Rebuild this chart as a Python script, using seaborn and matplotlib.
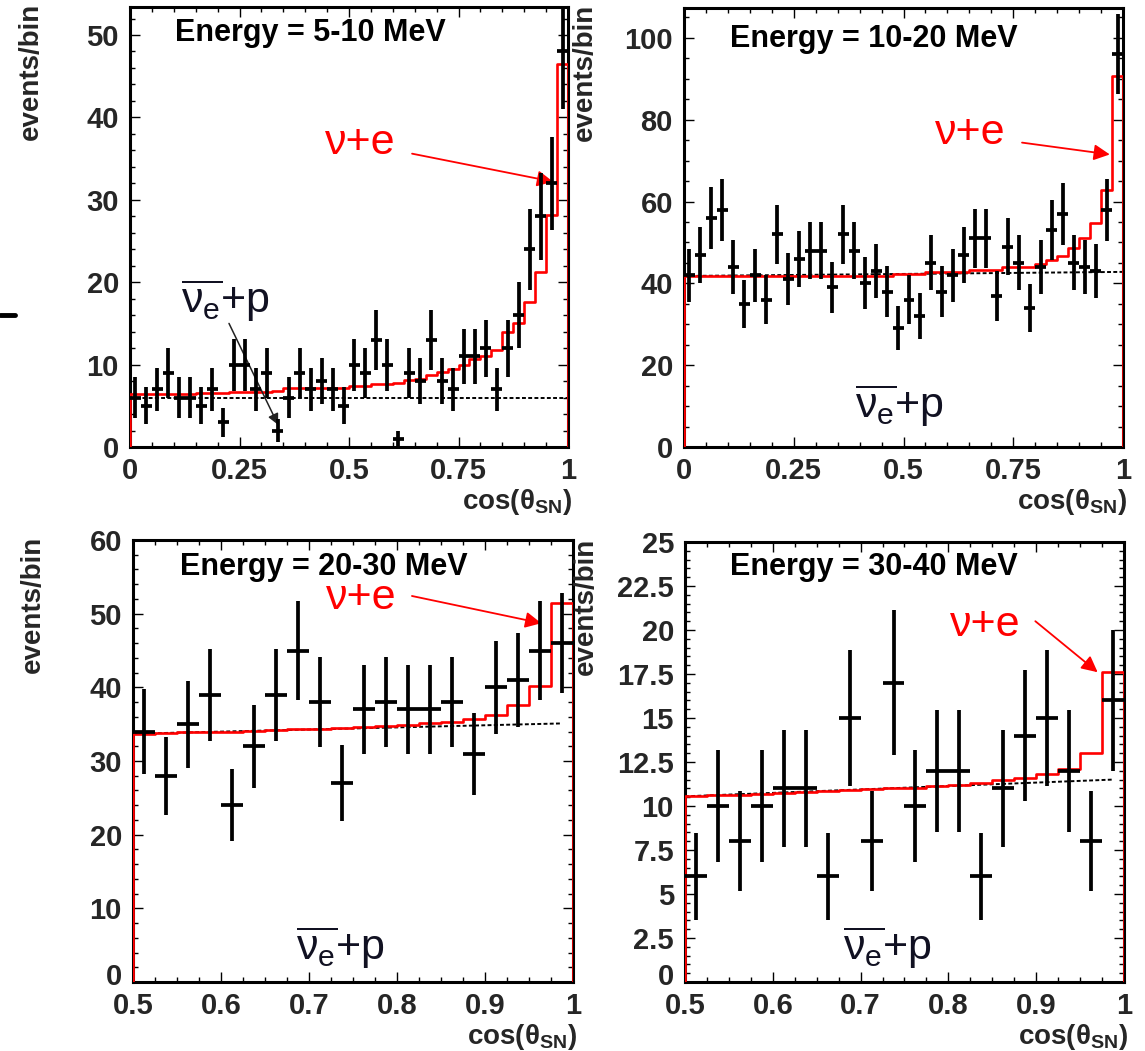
import numpy as np
import pandas as pd
import seaborn as sns
import matplotlib.pyplot as plt
import matplotlib.transforms as mtransforms
from matplotlib.ticker import MultipleLocator, FuncFormatter
from matplotlib.lines import Line2D

# bin edges of the cos(theta_SN) histograms
edges_full = np.linspace(0.0, 1.0, 41)
edges_half = np.linspace(0.5, 1.0, 21)

# observed events per bin
counts_5_10 = [6, 5, 7, 9, 6, 6, 5, 7, 3, 10, 10, 7, 9, 2, 6, 9, 7, 8, 7, 5,
               10, 9, 13, 10, 1, 9, 8, 13, 8, 7, 11, 11, 12, 7, 12, 16, 24, 28, 32, 48]
counts_10_20 = [42, 47, 56, 58, 44, 35, 42, 36, 52, 41, 46, 48, 48, 39, 52, 48, 40, 43, 38, 29,
                36, 32, 45, 38, 42, 47, 51, 51, 37, 49, 45, 34, 44, 53, 57, 45, 44, 43, 58, 96]
counts_20_30 = [34, 28, 35, 39, 24, 32, 39, 45, 38, 27, 37, 38, 37, 37, 38, 31, 40, 41, 45, 46]
counts_30_40 = [6, 10, 8, 10, 11, 11, 6, 15, 8, 17, 10, 12, 12, 6, 11, 14, 15, 12, 8, 16]

# expected (nu+e plus nubar_e+p) per bin, red histogram
model_5_10 = [6.4, 6.4, 6.4, 6.4, 6.4, 6.4, 6.5, 6.5, 6.6, 6.7, 6.7, 6.7, 6.7, 6.8, 7.1, 7.1,
              7.1, 7.2, 7.2, 7.2, 7.4, 7.4, 7.7, 7.7, 7.8, 8.1, 8.2, 8.7, 9.1, 9.5, 9.9, 10.7,
              11.1, 11.8, 13.9, 15.0, 17.6, 21.2, 28.1, 46.5]
model_10_20 = [41.8] * 19 + [42.3, 42.3, 42.3, 42.7, 42.7, 42.7, 42.7, 43.2, 43.2, 43.2,
                             43.9, 43.9, 43.9, 44.8, 45.6, 46.6, 48.6, 51.2, 54.8, 62.8, 90.6]
model_20_30 = [33.7, 33.8, 33.9, 34.0, 34.0, 34.1, 34.2, 34.3, 34.4, 34.5, 34.6, 34.8, 34.9,
               35.1, 35.3, 35.7, 36.2, 37.6, 40.2, 51.5]
model_30_40 = [10.55, 10.6, 10.65, 10.7, 10.75, 10.8, 10.85, 10.9, 10.95, 11.0, 11.05, 11.15,
               11.2, 11.3, 11.45, 11.6, 11.8, 12.1, 13.0, 17.6]

# nubar_e + p background (dashed)
bkg_x_full = [0.0, 1.0]
bkg_x_half = [0.5, 0.987]
bkg_5_10 = [6.0, 6.0]
bkg_10_20 = [41.8, 42.8]
bkg_20_30 = [33.7, 35.1]
bkg_30_40 = [10.55, 11.5]

titles = ['Energy = 5-10 MeV', 'Energy = 10-20 MeV', 'Energy = 20-30 MeV', 'Energy = 30-40 MeV']

sns.set_theme(style='ticks')
plt.rcParams['font.family'] = ['Liberation Sans', 'DejaVu Sans']
plt.rcParams['mathtext.fontset'] = 'custom'
plt.rcParams['mathtext.rm'] = 'Liberation Sans'
plt.rcParams['mathtext.it'] = 'Liberation Sans:italic'
plt.rcParams['mathtext.bf'] = 'Liberation Sans:bold'

W, H = 1145, 1051
fig = plt.figure(figsize=(W / 100, H / 100), dpi=100)
fig.patch.set_facecolor('white')

# pixel boxes (left, right, top, bottom)
boxes = [(130, 568, 7, 447), (684, 1123, 8, 447), (133, 573, 540, 982), (685, 1124, 542, 982)]

panels = [
    dict(edges=edges_full, counts=counts_5_10, model=model_5_10, bx=bkg_x_full, by=bkg_5_10,
         xlim=(0, 1), ylim=(0, 53.4), xmaj=0.25, xmin=0.05, ymaj=10, ymin=2,
         title_xy=(0.103, 0.941), nue=(0.525, 36.9), nue_tail=(0.644, 35.6), nue_head=(0.966, 32.2),
         nub=(0.217, 17.7), nub_arrow=((0.226, 15.0), (0.338, 2.7))),
    dict(edges=edges_full, counts=counts_10_20, model=model_10_20, bx=bkg_x_full, by=bkg_10_20,
         xlim=(0, 1), ylim=(0, 107.3), xmaj=0.25, xmin=0.05, ymaj=20, ymin=5,
         title_xy=(0.105, 0.929), nue=(0.651, 76.8), nue_tail=(0.770, 74.4), nue_head=(0.970, 71.5),
         nub=(0.492, 10.2), nub_arrow=None),
    dict(edges=edges_half, counts=counts_20_30, model=model_20_30, bx=bkg_x_half, by=bkg_20_30,
         xlim=(0.5, 1), ylim=(0, 60), xmaj=0.1, xmin=0.025, ymaj=10, ymin=2,
         title_xy=(0.107, 0.939), nue=(0.759, 52.1), nue_tail=(0.817, 52.4), nue_head=(0.964, 48.7),
         nub=(0.736, 4.6), nub_arrow=None),
    dict(edges=edges_half, counts=counts_30_40, model=model_30_40, bx=bkg_x_half, by=bkg_30_40,
         xlim=(0.5, 1), ylim=(0, 25), xmaj=0.1, xmin=0.025, ymaj=2.5, ymin=0.5,
         title_xy=(0.103, 0.943), nue=(0.842, 20.3), nue_tail=(0.899, 20.5), nue_head=(0.970, 17.6),
         nub=(0.731, 1.93), nub_arrow=None),
]

fmt = FuncFormatter(lambda v, p: '%g' % round(v, 4))

for box, p, title in zip(boxes, panels, titles):
    l, r, t, b = box
    ax = fig.add_axes([l / W, 1 - b / H, (r - l) / W, (b - t) / H])
    edges = np.asarray(p['edges'])
    centers = 0.5 * (edges[1:] + edges[:-1])
    half = 0.5 * (edges[1] - edges[0])
    counts = np.asarray(p['counts'], dtype=float)
    model = np.asarray(p['model'])
    hist_df = pd.DataFrame({'cos': centers, 'expected': model})

    # background line
    sns.lineplot(x=p['bx'], y=p['by'], ax=ax, color='black', lw=1.4,
                 linestyle=(0, (2.0, 1.2)), zorder=2)
    # expected histogram
    sns.histplot(data=hist_df, x='cos', weights='expected', bins=list(edges), element='step',
                 fill=False, color='red', lw=1.9, ax=ax, zorder=3)
    ax.vlines([edges[0], edges[-1]], 0, [model[0], model[-1]], color='red', lw=1.9, zorder=3)
    # data
    ax.errorbar(centers, counts, xerr=half, yerr=np.sqrt(counts), fmt='none',
                ecolor='black', elinewidth=2.7, capsize=0, zorder=4)

    ax.set_xlim(*p['xlim'])
    ax.set_ylim(*p['ylim'])
    ax.xaxis.set_major_locator(MultipleLocator(p['xmaj']))
    ax.xaxis.set_minor_locator(MultipleLocator(p['xmin']))
    ax.yaxis.set_major_locator(MultipleLocator(p['ymaj']))
    ax.yaxis.set_minor_locator(MultipleLocator(p['ymin']))
    ax.xaxis.set_major_formatter(fmt)
    ax.yaxis.set_major_formatter(fmt)
    ax.tick_params(which='both', direction='in', top=True, right=True, color='black', width=1.0)
    ax.tick_params(which='major', length=7)
    ax.tick_params(which='minor', length=3.5)
    ax.tick_params(axis='y', which='major', pad=8, labelsize=21)
    ax.tick_params(axis='x', which='major', pad=7, labelsize=21)
    for lab in ax.get_xticklabels() + ax.get_yticklabels():
        lab.set_fontweight('bold')
    # in the lower panels the y "0" sits just above the first x label
    if p['xlim'][0] > 0:
        fig.canvas.draw()
        lab0 = ax.get_yticklabels()[0]
        for tk in ax.yaxis.get_major_ticks():
            if tk.label1.get_text() == '0':
                tk.label1.set_transform(tk.label1.get_transform() +
                                        mtransforms.ScaledTranslation(0, 6 / 72, fig.dpi_scale_trans))
    for s in ax.spines.values():
        s.set_linewidth(2.2)
        s.set_color('black')
    ax.set_facecolor('white')

    ax.set_ylabel('events/bin', fontsize=20, fontweight='bold', loc='top')
    ax.yaxis.set_label_coords(-0.197, 1.01)
    ax.set_xlabel(r'cos($\mathbf{\theta}_{\mathbf{SN}}$)', fontsize=20, fontweight='bold', loc='right')
    ax.xaxis.set_label_coords(1.008, -0.09)

    ax.text(*p['title_xy'], title, transform=ax.transAxes, ha='left', va='center',
            fontsize=22, fontweight='bold', color='black')
    ax.text(*p['nue'], '\u03bd+e', ha='center', va='center', fontsize=31, color='red')
    ax.annotate('', xy=p['nue_head'], xytext=p['nue_tail'],
                arrowprops=dict(arrowstyle='-|>', color='red', lw=1.3, mutation_scale=24,
                                shrinkA=0, shrinkB=0))
    ax.text(*p['nub'], r'$\overline{\mathrm{\nu}_{\mathrm{e}}}$+p', ha='center', va='center',
            fontsize=31, color='#111122')
    if p['nub_arrow'] is not None:
        tail, head = p['nub_arrow']
        ax.annotate('', xy=head, xytext=tail,
                    arrowprops=dict(arrowstyle='-|>', color='#222222', lw=1.1, mutation_scale=16,
                                    shrinkA=0, shrinkB=0))

# short stray dash at the left margin
fig.add_artist(Line2D([0 / W, 15 / W], [1 - 315 / H, 1 - 315 / H], color='black', lw=3.5))

fig.savefig('out.png', dpi=100, facecolor='white')
